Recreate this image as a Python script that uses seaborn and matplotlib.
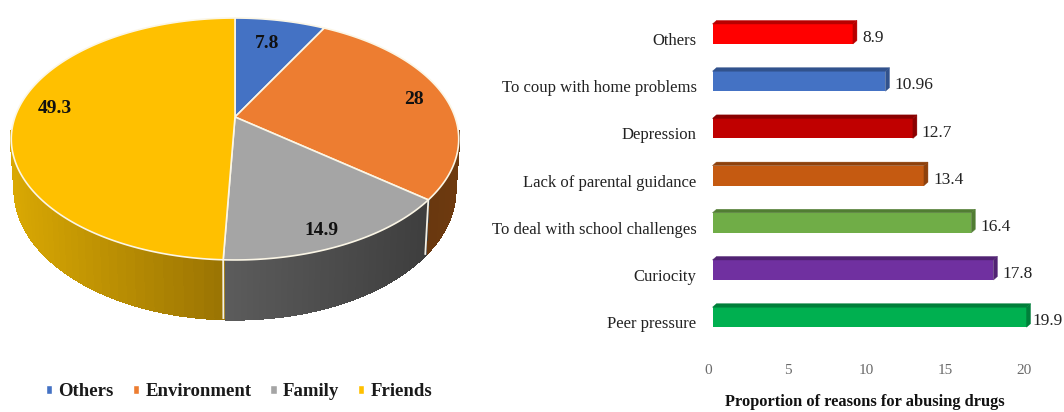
import numpy as np
import pandas as pd
import matplotlib
matplotlib.use("Agg")
import matplotlib.pyplot as plt
import seaborn as sns
from matplotlib.collections import PolyCollection
from matplotlib.patches import Patch, Polygon
from matplotlib.transforms import ScaledTranslation, IdentityTransform
from matplotlib.colors import to_rgb

# ---- data ----
pie_labels = ["Others", "Environment", "Family", "Friends"]
pie_values = [7.8, 28, 14.9, 49.3]
pie_text = ["7.8", "28", "14.9", "49.3"]
pie_colors = ["#4472c4", "#ed7d31", "#a5a5a5", "#ffc000"]

reasons = ["Others", "To coup with home problems", "Depression",
           "Lack of parental guidance", "To deal with school challenges",
           "Curiocity", "Peer pressure"]
reason_values = [8.9, 10.96, 12.7, 13.4, 16.4, 17.8, 19.9]
reason_text = ["8.9", "10.96", "12.7", "13.4", "16.4", "17.8", "19.9"]
reason_colors = ["#ff0000", "#4472c4", "#c00000", "#c55a11", "#70ad47", "#7030a0", "#00b050"]
x_ticks = [0, 5, 10, 15, 20]
x_title = "Proportion of reasons for abusing drugs"

# ---- style ----
W, H = 1064, 412
sns.set_theme(style="white")
SERIF = ["Liberation Serif", "DejaVu Serif"]
plt.rcParams["font.family"] = SERIF
fig = plt.figure(figsize=(W / 100, H / 100), dpi=100, facecolor="white")

# ---- 3D pie: perspective projection of the unit disc -----
pie_ax = fig.add_axes([0, 0, 1, 1])
pie_ax.set_xlim(0, W)
pie_ax.set_ylim(H, 0)
pie_ax.axis("off")

C, A, B, K, CX = 0.1818, -95.7, 117.0, 220.0, 235.0
WALL_S, WALL_Y, WALL_C = 0.984, 1.07, 41.0


def top_point(theta):
    x, y = np.sin(theta), np.cos(theta)
    d = C * y + 1
    return CX + K * x / d, (A * y + B) / d


def wall_point(theta):
    px, py = top_point(theta)
    return CX + (px - CX) * WALL_S, py * WALL_Y + WALL_C


edges = 2 * np.pi * np.cumsum([0] + pie_values) / sum(pie_values)
wall_shades = {
    "Environment": ("#6e3a0f", "#56300f"),
    "Family": ("#5c5c5c", "#3e3e3e"),
    "Friends": ("#d9a803", "#987203"),
}

for name, t0, t1 in zip(pie_labels, edges[:-1], edges[1:]):
    if name not in wall_shades:
        continue
    left, right = [np.array(to_rgb(c)) for c in wall_shades[name]]
    th = np.linspace(t0, t1, 80)
    tx, ty = top_point(th)
    bx, by = wall_point(th)
    lo, hi = bx.min(), bx.max()
    polys, cols = [], []
    for i in range(len(th) - 1):
        if np.cos(th[i]) > -0.12:
            continue
        polys.append([(tx[i], ty[i]), (tx[i + 1], ty[i + 1]), (bx[i + 1], by[i + 1]), (bx[i], by[i])])
        f = ((bx[i] - lo) / (hi - lo)) if hi > lo else 0
        if name == "Environment":
            f = 1 - f
        cols.append(left + (right - left) * f)
    pie_ax.add_collection(PolyCollection(polys, facecolors=cols, edgecolors=cols, linewidths=1.4,
                                         antialiaseds=False, zorder=1))

for t in [edges[2], edges[3]]:
    tx, ty = top_point(t)
    bx, by = wall_point(t)
    pie_ax.plot([tx, bx], [ty, by], color="#f4f0e4", lw=1.3, zorder=2, solid_capstyle="butt")

for name, col, t0, t1 in zip(pie_labels, pie_colors, edges[:-1], edges[1:]):
    th = np.linspace(t0, t1, 200)
    ax_, ay_ = top_point(th)
    verts = np.column_stack([np.r_[CX, ax_], np.r_[B, ay_]])
    pie_ax.add_patch(Polygon(verts, closed=True, facecolor=col, edgecolor="#fbf6e6", lw=1.2, zorder=3, joinstyle="round"))

label_pos = [(267, 43), (414, 99), (321, 230), (55, 108)]
for s, (x, y) in zip(pie_text, label_pos):
    pie_ax.text(x, y, s, ha="center", va="center", fontsize=14, fontweight="bold", color="#111111", zorder=4)

handles = [Patch(facecolor=c, label=l) for c, l in zip(pie_colors, pie_labels)]
pie_ax.legend(handles=handles, ncols=4, loc="center", bbox_to_anchor=(239 / W, 1 - 392 / H),
              frameon=False, handlelength=0.35, handleheight=0.35, handletextpad=0.33, columnspacing=1.0,
              prop={"family": SERIF, "weight": "bold", "size": 13.5}, labelcolor="#1a1a1a")

# ---- 3D bars ----
PX_UNIT, PX_STEP = 15.78, 47.2
BAR_LEFT, FIRST_CENTER = 712.5, 34
XMAX = 21
top_px = FIRST_CENTER - PX_STEP / 2
bar_ax = fig.add_axes([BAR_LEFT / W, 1 - (top_px + 7 * PX_STEP) / H, XMAX * PX_UNIT / W, 7 * PX_STEP / H])
df = pd.DataFrame({"reason": reasons, "value": reason_values})
sns.barplot(data=df, x="value", y="reason", hue="reason", palette=reason_colors, legend=False,
            width=20 / PX_STEP, saturation=1, linewidth=0, ax=bar_ax, zorder=3)
bar_ax.set_xlim(0, XMAX)
bar_ax.set_ylim(6.5, -0.5)
bar_ax.set_xticks(x_ticks)
bar_ax.set_xlabel("")
bar_ax.set_ylabel("")
bar_ax.patch.set_alpha(0)
sns.despine(ax=bar_ax, left=True, bottom=True, top=True, right=True)
bar_ax.tick_params(axis="both", length=0)
bar_ax.tick_params(axis="y", pad=11.5, labelsize=12, labelcolor="#222222")
bar_ax.tick_params(axis="x", pad=17, labelsize=11, labelcolor="#6a6a6a")

offset_y = ScaledTranslation(0, -5 / 100, fig.dpi_scale_trans)
offset_x = ScaledTranslation(-4 / 100, 0, fig.dpi_scale_trans)
for lab in bar_ax.get_yticklabels():
    lab.set_transform(lab.get_transform() + offset_y)
for lab in bar_ax.get_xticklabels():
    lab.set_transform(lab.get_transform() + offset_x)

fig.canvas.draw()
to_disp = bar_ax.transData.transform
DX, DY = 4.0, 3.5
for patch, col in zip(bar_ax.patches, reason_colors):
    x0, y0 = patch.get_x(), patch.get_y()
    w, h = patch.get_width(), patch.get_height()
    (lx, by), (rx, ty) = to_disp([(x0, y0 + h), (x0 + w, y0)])
    dark = np.array(to_rgb(col)) * 0.72
    top = [(lx, ty), (lx + DX, ty + DY), (rx + DX, ty + DY), (rx, ty)]
    side = [(rx, ty), (rx + DX, ty + DY), (rx + DX, by + DY), (rx, by)]
    for pts in (top, side):
        fig.add_artist(Polygon(pts, closed=True, facecolor=dark, edgecolor=dark, lw=0.3,
                               transform=IdentityTransform()))

label_nudge = [0, 0, 0, 0, 0, 0, -2]
for i, (v, s, n) in enumerate(zip(reason_values, reason_text, label_nudge)):
    bar_ax.annotate(s, xy=(v, i), xytext=(6.5 + n, -3), textcoords="offset points",
                    ha="left", va="center", fontsize=12.5, color="#222222", annotation_clip=False)

fig.text(865 / W, 1 - 402 / H, x_title, ha="center", va="center", fontsize=11.8,
         fontweight="bold", color="#111111")

fig.savefig("out.png", dpi=100)
